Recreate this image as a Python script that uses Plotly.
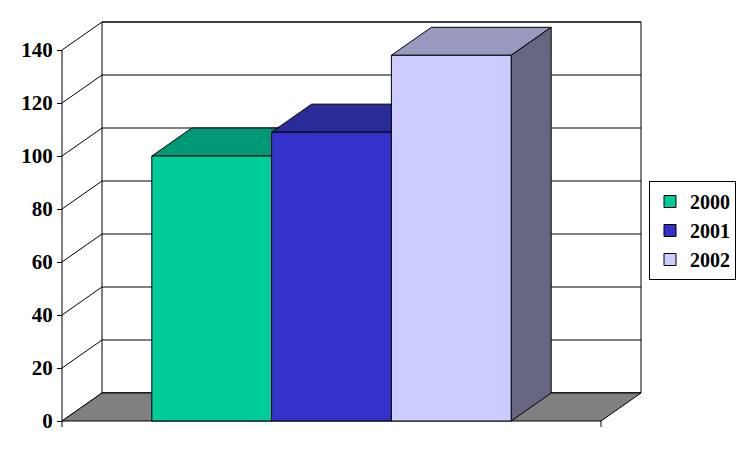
import plotly.graph_objects as go

# ---- data ----
series_names = ["2000", "2001", "2002"]
series_values = [100, 109, 138]
tick_values = [0, 20, 40, 60, 80, 100, 120, 140]
tick_labels = ["0", "20", "40", "60", "80", "100", "120", "140"]

# ---- styles ----
front_colors = ["#00CC99", "#3333CC", "#CCCCFF"]
top_colors = ["#009977", "#2A2A99", "#9999C0"]
side_colors = ["#006650", "#1A1A66", "#666680"]
floor_color = "#808080"
FONT = "Liberation Serif"

# ---- geometry ----
PAGE_OFF = 8                    # browser body margin
W, H = 744, 461
ml, mr, mt, mb = 40, 100, 6, 40
plot_w = W - ml - mr
plot_h = H - mt - mb
X0_PX, Y0_PX = 62 - PAGE_OFF, 421 - PAGE_OFF   # pixel of data origin in figure
PXX = 539 / 4.5                 # px per bar-width unit
PXY = 371 / 140                 # px per value unit
DX = 40 / PXX                   # depth offset (x)
DY = 28 / PXY                   # depth offset (y)
CAT_W = 4.5                     # category span in bar widths
GAP = 0.75                      # half gap before first bar
YMAX = max(tick_values)

xrange_ = [(ml - X0_PX) / PXX, (W - mr - X0_PX) / PXX]
yrange_ = [(Y0_PX - (H - mb)) / PXY, (Y0_PX - mt) / PXY]

fig = go.Figure()
line = dict(color="black", width=1)


def poly(xs, ys, fill):
    fig.add_trace(go.Scatter(
        x=list(xs) + [xs[0]], y=list(ys) + [ys[0]], mode="lines",
        fill="toself", fillcolor=fill, line=line, hoverinfo="skip",
        showlegend=False))


def seg(xs, ys):
    fig.add_trace(go.Scatter(x=xs, y=ys, mode="lines", line=line,
                             hoverinfo="skip", showlegend=False))


# back wall
poly([DX, CAT_W + DX, CAT_W + DX, DX], [DY, DY, YMAX + DY, YMAX + DY], "white")
for v in tick_values:
    seg([DX, CAT_W + DX], [v + DY, v + DY])
    seg([0, DX], [v, v + DY])
# floor
poly([0, CAT_W, CAT_W + DX, DX], [0, 0, DY, DY], floor_color)
# front axis line and category end ticks
seg([0, 0], [0, YMAX])
tick_down = 6 / PXY
seg([0, 0], [0, -tick_down])
seg([CAT_W, CAT_W], [0, -tick_down])

# bars
for i, v in enumerate(series_values):
    x0 = GAP + i
    x1 = x0 + 1
    poly([x0, x1, x1 + DX, x0 + DX], [v, v, v + DY, v + DY], top_colors[i])
    poly([x1, x1 + DX, x1 + DX, x1], [0, DY, v + DY, v], side_colors[i])
    poly([x0, x1, x1, x0], [0, 0, v, v], front_colors[i])

# legend proxies (placed outside the visible range)
for i, (n, v) in enumerate(zip(series_names, series_values)):
    fig.add_trace(go.Bar(
        x=[xrange_[1] + 10], y=[v], name=n,
        marker=dict(color=front_colors[i], line=dict(color="black", width=1)),
        showlegend=True, hoverinfo="skip"))

fig.update_layout(
    width=W, height=H,
    margin=dict(l=ml, r=mr, t=mt, b=mb, pad=0, autoexpand=False),
    paper_bgcolor="white", plot_bgcolor="white",
    xaxis=dict(range=xrange_, visible=False, fixedrange=True, automargin=False),
    yaxis=dict(range=yrange_, anchor="free", position=(X0_PX - ml) / plot_w,
               tickvals=tick_values, ticktext=tick_labels,
               ticks="outside", ticklen=5, tickcolor="black", tickwidth=1,
               showline=False, showgrid=False, zeroline=False, automargin=False,
               tickfont=dict(family=FONT, size=21, color="black", weight="bold"),
               fixedrange=True),
    showlegend=True,
    legend=dict(xref="container", yref="container",
                x=(649 - PAGE_OFF) / W, y=1 - (181 - PAGE_OFF) / H,
                xanchor="left", yanchor="top",
                bgcolor="white", bordercolor="black", borderwidth=1,
                font=dict(family=FONT, size=20, color="black", weight="bold"),
                itemwidth=30, tracegroupgap=0),
    barmode="group",
)

fig.write_html("out.html")
